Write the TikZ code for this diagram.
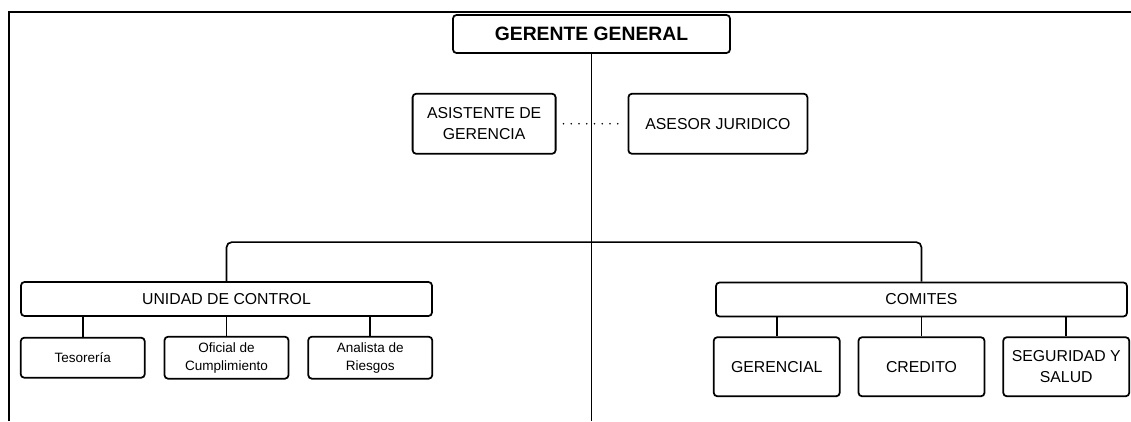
\documentclass[tikz,border=0pt]{standalone}
\usepackage{fontspec}
\setmainfont{Liberation Sans}
\usepackage{tikz}
\usetikzlibrary{positioning}

\begin{document}
\begin{tikzpicture}[
        node distance=0.38cm,
        cargo/.style={draw, rectangle, rounded corners=2pt, line width=1pt, align=center, font=\fontsize{9}{12}\selectfont},
        jefe/.style={cargo, minimum width=5.54cm, minimum height=0.76cm, font=\fontsize{11}{13}\selectfont\bfseries},
        apoyo/.style={cargo, minimum height=1.2cm},
        area/.style={cargo, minimum width=8.22cm, minimum height=0.68cm},
        puesto/.style={cargo, minimum width=2.48cm, minimum height=0.8cm, font=\fontsize{7.7}{10}\selectfont},
        comite/.style={cargo, minimum width=2.52cm, minimum height=1.18cm},
        linea/.style={line width=0.95pt}
    ]
        \useasboundingbox (0,0) rectangle (22.62,-8.42);
        \draw [line width=1.5pt] (0.18,-8.42) |- (22.62,-0.24);

        \node (gerente) [jefe] at (11.83,-0.68) {GERENTE GENERAL};
        \node (asist) [apoyo, minimum width=2.86cm, below left=0.78cm and 0.7cm of gerente.south] {ASISTENTE DE\\GERENCIA};
        \node (asesor) [apoyo, minimum width=3.58cm, below right=0.78cm and 0.72cm of gerente.south] {ASESOR JURIDICO};

        \node (unidad) [area] at (4.53,-5.98) {UNIDAD DE CONTROL};
        \node (oficial) [puesto, below=of unidad] {Oficial de\\Cumplimiento};
        \node (teso) [puesto, left=0.36cm of oficial] {Tesorería};
        \node (analista) [puesto, right=0.36cm of oficial] {Analista de\\Riesgos};

        \node (comites) [area] at (18.43,-5.99) {COMITES};
        \node (credito) [comite, below=of comites] {CREDITO};
        \node (gerencial) [comite, left=0.34cm of credito] {GERENCIAL};
        \node (seguridad) [comite, right=0.34cm of credito] {SEGURIDAD Y\\SALUD};

        \coordinate (fin) at (gerente.south |- 0,-8.42);

        \draw [linea] (gerente) -- (fin);
        \draw [line width=1pt, dash pattern=on 0pt off 4.4pt, line cap=round, shorten <=4pt, shorten >=3pt] (asist) -- (asesor);
        \draw [linea, rounded corners=3pt] (unidad.north) -- ++(0,0.78) -| (comites.north);
        \foreach \hijo in {teso, oficial, analista}
            \draw [linea] (\hijo.north) -- (\hijo.north |- unidad.south);
        \foreach \hijo in {gerencial, credito, seguridad}
            \draw [linea] (\hijo.north) -- (\hijo.north |- comites.south);
    \end{tikzpicture}
\end{document}
